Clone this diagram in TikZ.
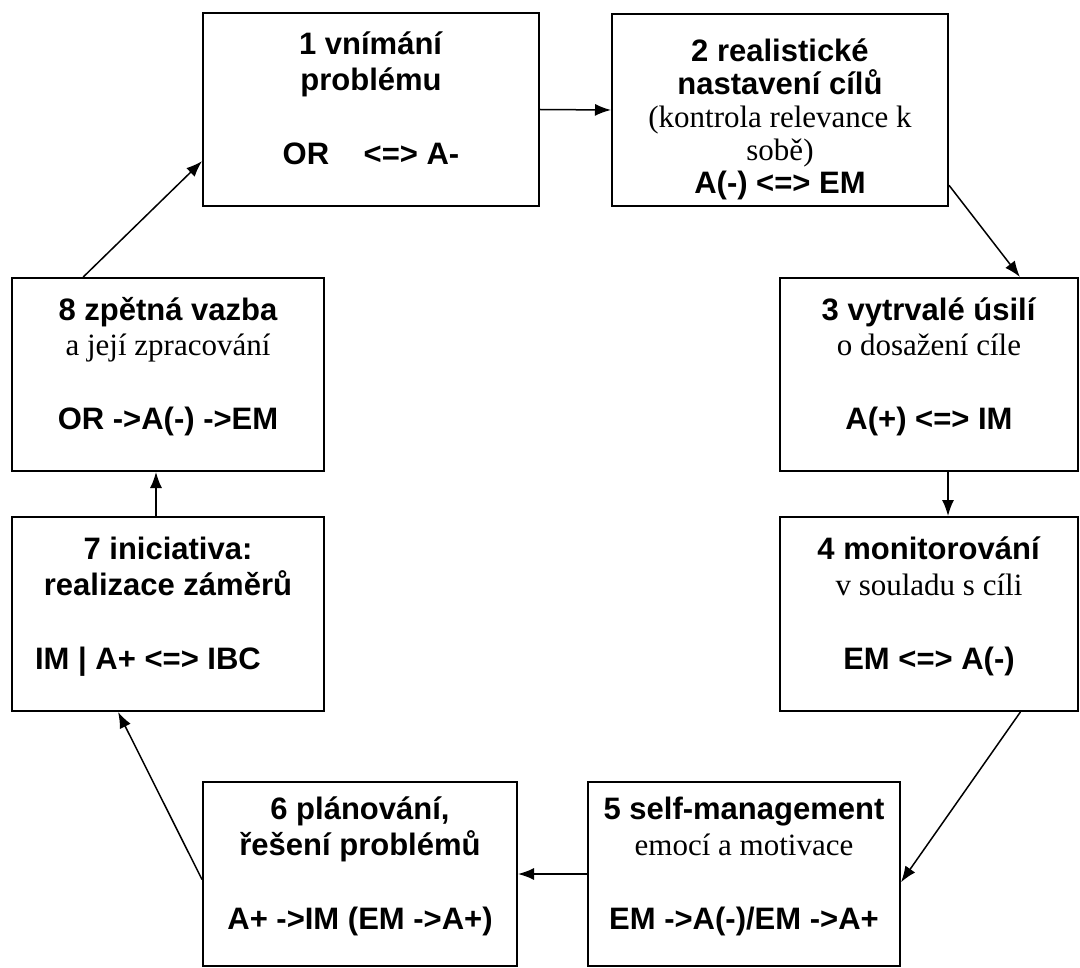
\documentclass[tikz,border=0pt]{standalone}
\usepackage{fontspec}
\setmainfont{Liberation Serif}
\setsansfont{Liberation Sans}
\usepackage{pgf,tikz}
\usetikzlibrary{shapes,arrows}
\usetikzlibrary{arrows.meta}
\newcommand{\hd}[1]{\textsf{\bfseries #1}}

\begin{document}
\begin{tikzpicture}[x=1pt,y=-1pt,
   stage/.style={draw,rectangle,line width=2pt,align=center,inner sep=0pt,
      font=\fontsize{31}{36}\selectfont,text height=140pt,text depth=29pt},
   flow/.style={line width=1.5pt,-{Latex[length=16pt,width=12pt]}}]
   \fill[white] (0,0) rectangle (1080,968);
   \useasboundingbox (0,0) rectangle (1080,968);

   \node[stage,minimum width=336pt,minimum height=193pt] (n1) at (371,109.5)
      {\hd{1 vnímání}\\ \hd{problému}\\[38pt] \hd{OR \ \ \ <=> A-}};
   \node[stage,minimum width=336pt,minimum height=192pt,font=\fontsize{31}{33}\selectfont,text height=179pt,text depth=11pt] (n2) at (780,110)
      {\hd{2 realistické}\\ \hd{nastavení cílů}\\ (kontrola relevance k\\ sobě)\\ \hd{A(-) <=> EM}};
   \node[stage,minimum width=298pt,minimum height=193pt] (n3) at (929,374.5)
      {\hd{3 vytrvalé úsilí}\\ o dosažení cíle\\[38pt] \hd{A(+) <=> IM}};
   \node[stage,minimum width=298pt,minimum height=194pt] (n4) at (929,614)
      {\hd{4 monitorování}\\ v souladu s cíli\\[38pt] \hd{EM <=> A(-)}};
   \node[stage,minimum width=312pt,minimum height=184pt] (n5) at (744,874)
      {\hd{5 self-management}\\ emocí a motivace\\[38pt] \hd{EM ->A(-)/EM ->A+}};
   \node[stage,minimum width=314pt,minimum height=184pt] (n6) at (360,874)
      {\hd{6 plánování,}\\ \hd{řešení problémů}\\[38pt] \hd{A+ ->IM (EM ->A+)}};
   \node[stage,minimum width=312pt,minimum height=194pt] (n7) at (168,614)
      {\hd{7 iniciativa:}\\ \hd{realizace záměrů}\\[38pt] \hspace*{-40pt}\hd{IM | A+ <=> IBC}};
   \node[stage,minimum width=312pt,minimum height=193pt] (n8) at (168,374.5)
      {\hd{8 zpětná vazba}\\ a její zpracování\\[38pt] \hd{OR ->A(-) ->EM}};

   % cycle 1 -> 8
   \draw[flow] (n1.east) -- (n2.west);
   \draw[flow] (n2.-24) -- (n3.47);
   \draw[flow] ([xshift=19pt]n3.south) -- ([xshift=19pt]n4.north);
   \draw[flow] (n4.-47) -- (n5.-3);
   \draw[flow] (n5.west) -- (n6.east);
   \draw[flow] (n6.182) -- (n7.243);
   \draw[flow] ([xshift=-12pt]n7.north) -- ([xshift=-12pt]n8.south);
   \draw[flow] (n8.131) -- (n1.197);
\end{tikzpicture}
\end{document}
